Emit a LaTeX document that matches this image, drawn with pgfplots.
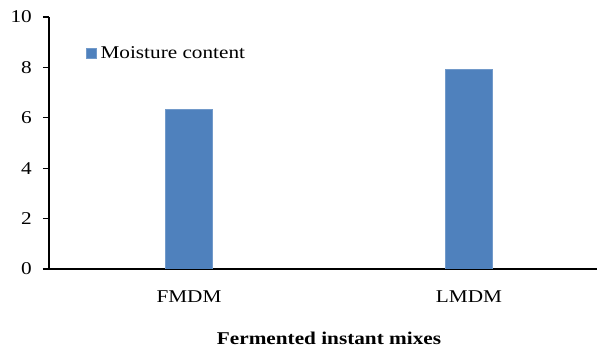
\documentclass[border=0pt]{standalone}
\usepackage{pgfplots}
\pgfplotsset{compat=1.18}
\usepackage{fontspec}
\setmainfont{Liberation Serif}
\definecolor{barblue}{RGB}{79,129,189}
\newcommand{\wide}[1]{\scalebox{1.18}[1]{#1}}
\begin{document}
\begin{tikzpicture}[x=1pt,y=1pt]
\begin{axis}[
  at={(49pt,83pt)}, anchor=south west,
  scale only axis,
  width=560pt, height=252pt,
  xmin=-0.5, xmax=1.5,
  ymin=0, ymax=10,
  ytick={0,2,4,6,8,10},
  yticklabel={\wide{\pgfmathprintnumber{\tick}}},
  xtick=data,
  xticklabels={\wide{FMDM},\wide{LMDM}},
  axis x line=bottom, axis y line=left,
  axis line style={-, line width=1.6pt, black},
  x axis line style={-},
  y axis line style={-},
  major x tick style={draw=none},
  ytick style={line width=1.3pt, black},
  tick align=outside,
  major tick length=6pt,
  ybar, bar width=0.169,
  /pgf/number format/assume math mode=true,
  yticklabel style={font=\fontsize{18}{20}\selectfont, inner sep=0pt, anchor=east, xshift=-11pt},
  xticklabel style={font=\fontsize{18}{20}\selectfont, inner sep=0pt, anchor=center, yshift=-22pt},
  xlabel={\wide{\textbf{Fermented instant mixes}}},
  xlabel style={font=\fontsize{18}{20}\selectfont, inner sep=0pt, at={(axis description cs:0.5,0)}, anchor=center, yshift=-69pt},
  legend style={draw=none, fill=none, at={(axis description cs:0.066,0.857)}, anchor=west,
    font=\fontsize{18}{20}\selectfont, inner sep=0pt, nodes={inner sep=2pt}},
  legend image code/.code={\fill[#1] (0pt,-5pt) rectangle (10pt,5pt);},
]
\addplot[fill=barblue, draw=barblue!80!white] coordinates {(0,6.34) (1,7.92)};
\addlegendentry{\hspace{2pt}\wide{Moisture content}}
\end{axis}
\pgfresetboundingbox
\path[use as bounding box] (0,0) rectangle (597pt,352pt);
\end{tikzpicture}
\end{document}
